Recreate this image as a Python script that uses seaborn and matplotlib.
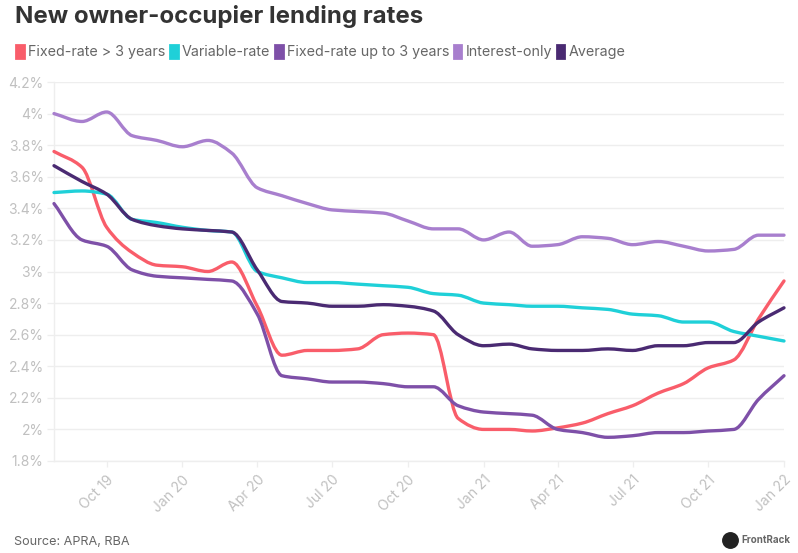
import numpy as np
import pandas as pd
import matplotlib
matplotlib.use("Agg")
import matplotlib.pyplot as plt
import matplotlib.dates as mdates
import matplotlib.patheffects as pe
from matplotlib.patches import Patch, Circle
from matplotlib.path import Path
import seaborn as sns

# --- data, one value per month ---
first_obs = ["2019-07-29"]
months = pd.date_range("2019-09-01", "2022-01-01", freq="MS").strftime("%Y-%m-%d").tolist()
dates = pd.to_datetime(first_obs + months)

fixed_long = [3.76, 3.66, 3.28, 3.12, 3.04, 3.03, 3.00, 3.06, 2.78, 2.47, 2.50, 2.50, 2.51, 2.60, 2.61,
              2.60, 2.07, 2.00, 2.00, 1.99, 2.01, 2.04, 2.10, 2.15, 2.23, 2.29, 2.39, 2.44, 2.70, 2.94]
variable = [3.50, 3.51, 3.49, 3.33, 3.31, 3.28, 3.26, 3.25, 3.00, 2.96, 2.93, 2.93, 2.92, 2.91, 2.90,
            2.86, 2.85, 2.80, 2.79, 2.78, 2.78, 2.77, 2.76, 2.73, 2.72, 2.68, 2.68, 2.62, 2.59, 2.56]
fixed_short = [3.43, 3.20, 3.16, 3.01, 2.97, 2.96, 2.95, 2.94, 2.73, 2.34, 2.32, 2.30, 2.30, 2.29, 2.27,
               2.27, 2.15, 2.11, 2.10, 2.09, 2.00, 1.98, 1.95, 1.96, 1.98, 1.98, 1.99, 2.00, 2.19, 2.34]
interest_only = [4.00, 3.95, 4.01, 3.86, 3.83, 3.79, 3.83, 3.75, 3.53, 3.48, 3.43, 3.39, 3.38, 3.37, 3.32,
                 3.27, 3.27, 3.20, 3.25, 3.16, 3.17, 3.22, 3.21, 3.17, 3.19, 3.16, 3.13, 3.14, 3.23, 3.23]
average = [3.67, 3.57, 3.49, 3.33, 3.29, 3.27, 3.26, 3.25, 3.01, 2.81, 2.80, 2.78, 2.78, 2.79, 2.78,
           2.75, 2.60, 2.53, 2.54, 2.51, 2.50, 2.50, 2.51, 2.50, 2.53, 2.53, 2.55, 2.55, 2.68, 2.77]

series_names = ["Fixed-rate > 3 years", "Variable-rate", "Fixed-rate up to 3 years", "Interest-only", "Average"]
series_values = [fixed_long, variable, fixed_short, interest_only, average]
series_colors = ["#f95d6a", "#1fd0d8", "#7e50a8", "#a87fce", "#4a2a72"]
y_ticks = [1.8, 2.0, 2.2, 2.4, 2.6, 2.8, 3.0, 3.2, 3.4, 3.6, 3.8, 4.0, 4.2]
y_labels = ["1.8%", "2%", "2.2%", "2.4%", "2.6%", "2.8%", "3%", "3.2%", "3.4%", "3.6%", "3.8%", "4%", "4.2%"]
x_ticks = pd.to_datetime(["2019-10-01", "2020-01-01", "2020-04-01", "2020-07-01", "2020-10-01",
                          "2021-01-01", "2021-04-01", "2021-07-01", "2021-10-01", "2022-01-01"])

FONT = ["Inter", "DejaVu Sans"]
GRID = "#eeeeee"
TICK = "#c0c0c0"
TEXT = "#666666"


class SmoothStroke(pe.AbstractPathEffect):
    """Strokes a line as a monotone cubic curve through its own vertices."""

    def draw_path(self, renderer, gc, tpath, affine, rgbFace=None):
        v = affine.transform(tpath.vertices)
        h = np.diff(v[:, 0])
        d = np.diff(v[:, 1]) / h
        m = np.zeros(len(v))
        m[0], m[-1] = d[0], d[-1]
        for i in range(1, len(v) - 1):
            if d[i - 1] * d[i] > 0:
                w1, w2 = 2 * h[i] + h[i - 1], h[i] + 2 * h[i - 1]
                m[i] = (w1 + w2) / (w1 / d[i - 1] + w2 / d[i])
        verts, codes = [v[0]], [Path.MOVETO]
        for i in range(len(h)):
            verts += [(v[i, 0] + h[i] / 3, v[i, 1] + m[i] * h[i] / 3),
                      (v[i + 1, 0] - h[i] / 3, v[i + 1, 1] - m[i + 1] * h[i] / 3),
                      v[i + 1]]
            codes += [Path.CURVE4] * 3
        renderer.draw_path(gc, Path(np.array(verts), codes), matplotlib.transforms.IdentityTransform())


sns.set_theme(style="white")
plt.rcParams["font.family"] = FONT

W, H = 798, 553
fig = plt.figure(figsize=(W / 100, H / 100), dpi=100, facecolor="white")
ax = fig.add_axes([54 / W, 1 - 461 / H, (784 - 54) / W, (461 - 82) / H])

frame = pd.DataFrame({"date": np.tile(dates, len(series_names)),
                      "rate": np.concatenate(series_values),
                      "series": np.repeat(series_names, len(dates))})
sns.lineplot(data=frame, x="date", y="rate", hue="series", hue_order=series_names,
             palette=series_colors, linewidth=2.4, legend=False, ax=ax, zorder=3)
for line in ax.get_lines():
    line.set_path_effects([SmoothStroke()])
    line.set_clip_on(False)
    line.set_solid_capstyle("round")

ax.set_xlim(dates[0], x_ticks[-1])
ax.set_ylim(1.8, 4.2)
ax.set_xlabel("")
ax.set_ylabel("")
ax.set_yticks(y_ticks, y_labels)
ax.set_xticks(x_ticks)
ax.xaxis.set_major_formatter(mdates.DateFormatter("%b %y"))
ax.grid(axis="y", color=GRID, linewidth=1.0)
ax.grid(axis="x", visible=False)
ax.set_axisbelow(True)
ax.tick_params(axis="y", length=5, width=0.9, color=GRID, labelcolor=TICK, labelsize=10, pad=2.5, left=True)
ax.tick_params(axis="x", length=4.5, width=0.9, color=GRID, labelcolor=TICK, labelsize=10, pad=4, bottom=True)
for lab in ax.get_xticklabels():
    lab.set_rotation(45)
    lab.set_ha("right")
    lab.set_rotation_mode("anchor")
for side in ("top", "right"):
    ax.spines[side].set_visible(False)
for side in ("left", "bottom"):
    ax.spines[side].set_color(GRID)
    ax.spines[side].set_linewidth(1.0)

fig.text(15 / W, 1 - 17 / H, "New owner-occupier lending rates", fontsize=17.3, fontweight="bold",
         color="#333333", va="center", ha="left")

handles = [Patch(facecolor=c, edgecolor=c, linewidth=2, joinstyle="round") for c in series_colors]
fig.legend(handles, series_names, loc="center left", bbox_to_anchor=(16 / W, 1 - 52 / H), ncol=5,
           frameon=False, fontsize=10.3, labelcolor=TEXT, handlelength=0.55, handleheight=1.0,
           handletextpad=0.3, columnspacing=0.3, borderpad=0, borderaxespad=0)

fig.text(14 / W, 1 - 542 / H, "Source: APRA, RBA", fontsize=9.1, color=TEXT, va="center", ha="left")

logo_ax = fig.add_axes([722 / W, 1 - 549 / H, 17 / W, 17 / H])
logo_ax.set_axis_off()
logo_ax.set_xlim(-1.1, 1.1)
logo_ax.set_ylim(-1.1, 1.1)
logo_ax.add_patch(Circle((0, 0), 1, color="#222222", clip_on=False))
fig.text(741 / W, 1 - 540 / H, "FrontRack", fontsize=7, color="#666666", va="center", ha="left", fontweight="bold")

fig.savefig("out.png", dpi=100, facecolor="white")
